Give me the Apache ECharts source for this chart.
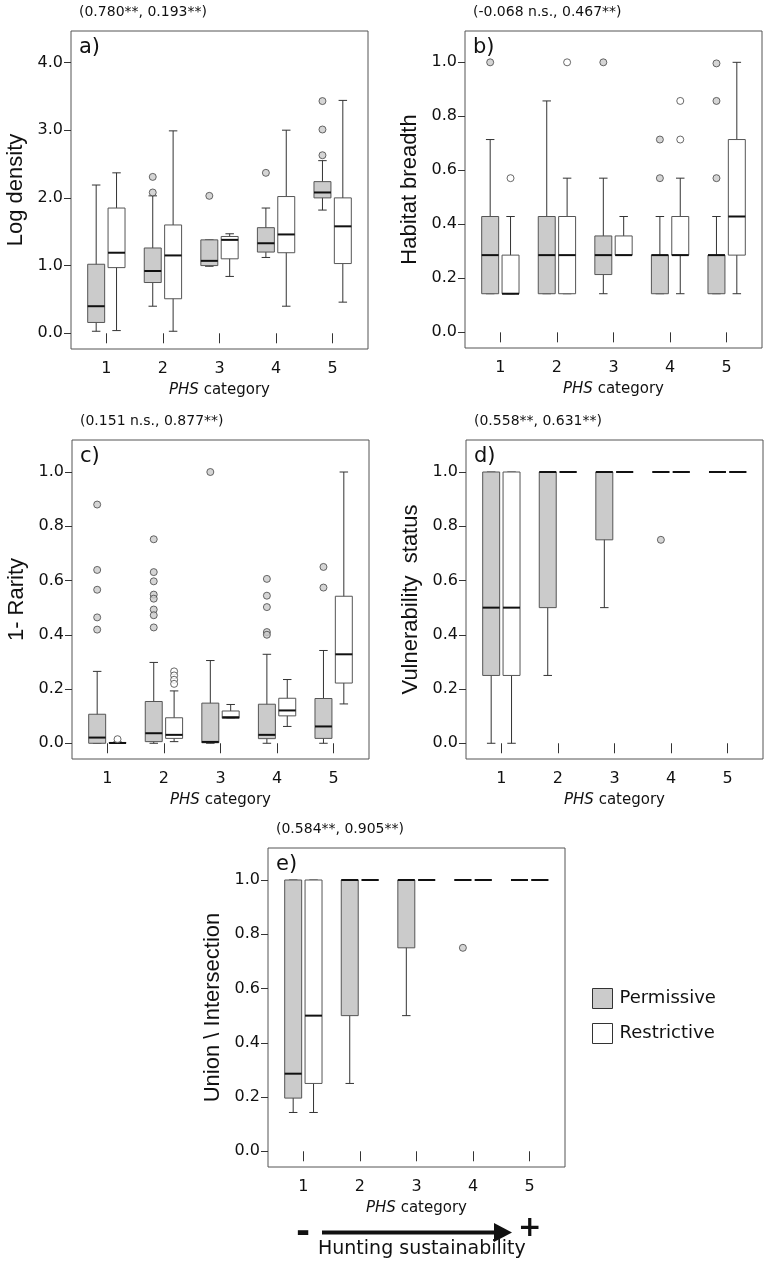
<!DOCTYPE html>
<html>
<head>
<meta charset="utf-8">
<script src="https://cdn.jsdelivr.net/npm/echarts@6/dist/echarts.min.js"></script>
<style>html,body{margin:0;padding:0;background:#fff;}#chart{width:768px;height:1267px;}</style>
</head>
<body>
<div id="chart"></div>
<script>
// ---------- data ----------
const phsCategories = [1, 2, 3, 4, 5];
const densityTicks = [0, 1, 2, 3, 4];
const unitTicks = [0, 0.2, 0.4, 0.6, 0.8, 1.0];

const panelLetters = ['a)', 'b)', 'c)', 'd)', 'e)'];
const correlationLabels = ['(0.780**, 0.193**)', '(-0.068 n.s., 0.467**)', '(0.151 n.s., 0.877**)', '(0.558**, 0.631**)', '(0.584**, 0.905**)'];
const yTitles = ['Log density', 'Habitat breadth', '1- Rarity', 'Vulnerability  status', 'Union \\ Intersection'];
const legendNames = ['Permissive', 'Restrictive'];

// [lower whisker, Q1, median, Q3, upper whisker] per PHS category
const logDensityPermissive = [[0.03,0.16,0.40,1.02,2.19],[0.40,0.75,0.92,1.26,2.03],[0.99,1.00,1.07,1.38,1.38],[1.12,1.20,1.33,1.56,1.85],[1.82,2.00,2.08,2.24,2.55]];
const logDensityRestrictive = [[0.04,0.97,1.19,1.85,2.37],[0.03,0.51,1.15,1.60,2.99],[0.84,1.10,1.38,1.43,1.47],[0.40,1.19,1.46,2.02,3.00],[0.46,1.03,1.58,2.00,3.44]];
const logDensityPermOutliers = [[2,2.31],[2,2.08],[3,2.03],[4,2.37],[5,3.43],[5,3.01],[5,2.63]];
const logDensityRestrOutliers = [];

const habitatPermissive = [[0.143,0.143,0.286,0.429,0.714],[0.143,0.143,0.286,0.429,0.857],[0.143,0.214,0.286,0.357,0.571],[0.143,0.143,0.286,0.286,0.429],[0.143,0.143,0.286,0.286,0.429]];
const habitatRestrictive = [[0.143,0.143,0.143,0.286,0.429],[0.143,0.143,0.286,0.429,0.571],[0.286,0.286,0.286,0.357,0.429],[0.143,0.286,0.286,0.429,0.571],[0.143,0.286,0.429,0.714,1.0]];
const habitatPermOutliers = [[1,1.0],[3,1.0],[4,0.714],[4,0.571],[5,0.996],[5,0.857],[5,0.571]];
const habitatRestrOutliers = [[1,0.571],[2,1.0],[4,0.857],[4,0.714]];

const rarityPermissive = [[0,0,0.021,0.107,0.265],[0,0.006,0.037,0.154,0.298],[0,0.002,0.005,0.148,0.305],[0,0.017,0.031,0.144,0.328],[0,0.018,0.062,0.165,0.342]];
const rarityRestrictive = [[0,0,0.001,0.003,0.005],[0.006,0.018,0.031,0.094,0.193],[0.092,0.092,0.096,0.119,0.143],[0.062,0.101,0.121,0.166,0.235],[0.145,0.222,0.328,0.542,1.0]];
const rarityPermOutliers = [[1,0.88],[1,0.639],[1,0.566],[1,0.464],[1,0.419],[2,0.752],[2,0.631],[2,0.597],[2,0.548],[2,0.533],[2,0.493],[2,0.472],[2,0.427],[3,1.0],[4,0.606],[4,0.544],[4,0.502],[4,0.41],[4,0.40],[5,0.65],[5,0.574]];
const rarityRestrOutliers = [[1,0.015],[2,0.265],[2,0.25],[2,0.234],[2,0.219]];

const vulnerabilityPermissive = [[0,0.25,0.5,1,1],[0.25,0.5,1,1,1],[0.5,0.75,1,1,1],[1,1,1,1,1],[1,1,1,1,1]];
const vulnerabilityRestrictive = [[0,0.25,0.5,1,1],[1,1,1,1,1],[1,1,1,1,1],[1,1,1,1,1],[1,1,1,1,1]];
const vulnerabilityPermOutliers = [[4,0.75]];
const vulnerabilityRestrOutliers = [];

const unionPermissive = [[0.143,0.196,0.286,1,1],[0.25,0.5,1,1,1],[0.5,0.75,1,1,1],[1,1,1,1,1],[1,1,1,1,1]];
const unionRestrictive = [[0.143,0.25,0.5,1,1],[1,1,1,1,1],[1,1,1,1,1],[1,1,1,1,1],[1,1,1,1,1]];
const unionPermOutliers = [[4,0.75]];
const unionRestrOutliers = [];

// ---------- layout / style ----------
const FONT = '"DejaVu Sans", sans-serif';
const FONT_Y = '"Liberation Sans", Arial, sans-serif';
const PERM_FILL = '#cbcbcb';
const BOX_STROKE = '#555';
const WHISKER = '#333';
const FRAME = '#555';
const OFFSET = 0.18;
const HALF_W = 0.15;

const grids = [
  {left: 71, top: 31, width: 297, height: 318},
  {left: 465, top: 31, width: 297, height: 317},
  {left: 72, top: 440, width: 297, height: 319},
  {left: 466, top: 440, width: 297, height: 319},
  {left: 268, top: 848, width: 297, height: 319}
];
const yRanges = [[-0.232, 4.465], [-0.058, 1.116], [-0.058, 1.118], [-0.058, 1.118], [-0.058, 1.118]];
const yTickSets = [densityTicks, unitTicks, unitTicks, unitTicks, unitTicks];

const panels = [
  [logDensityPermissive, logDensityRestrictive, logDensityPermOutliers, logDensityRestrOutliers],
  [habitatPermissive, habitatRestrictive, habitatPermOutliers, habitatRestrOutliers],
  [rarityPermissive, rarityRestrictive, rarityPermOutliers, rarityRestrOutliers],
  [vulnerabilityPermissive, vulnerabilityRestrictive, vulnerabilityPermOutliers, vulnerabilityRestrOutliers],
  [unionPermissive, unionRestrictive, unionPermOutliers, unionRestrOutliers]
];

function boxRenderer(offset, fill) {
  return function (params, api) {
    const x = api.value(0) + offset;
    const p = [1, 2, 3, 4, 5].map(d => api.coord([x, api.value(d)]));
    const hw = api.size([HALF_W, 0])[0];
    const cw = hw * 0.5;
    const cx = p[0][0];
    return {
      type: 'group',
      children: [
        {type: 'line', shape: {x1: cx, y1: p[0][1], x2: cx, y2: p[4][1]}, style: {stroke: WHISKER, lineWidth: 1}},
        {type: 'line', shape: {x1: cx - cw, y1: p[0][1], x2: cx + cw, y2: p[0][1]}, style: {stroke: WHISKER, lineWidth: 1}},
        {type: 'line', shape: {x1: cx - cw, y1: p[4][1], x2: cx + cw, y2: p[4][1]}, style: {stroke: WHISKER, lineWidth: 1}},
        {type: 'rect', shape: {x: cx - hw, y: p[3][1], width: hw * 2, height: p[1][1] - p[3][1]}, style: {fill: fill, stroke: BOX_STROKE, lineWidth: 1}},
        {type: 'line', shape: {x1: cx - hw, y1: p[2][1], x2: cx + hw, y2: p[2][1]}, style: {stroke: '#111', lineWidth: 2}}
      ]
    };
  };
}

const xAxes = [], yAxes = [], series = [], graphics = [];
panels.forEach((pan, i) => {
  xAxes.push({
    type: 'value', gridIndex: i, min: 0.375, max: 5.625,
    splitLine: {show: false},
    axisLine: {show: false},
    axisTick: {show: true, length: 10, lineStyle: {color: '#333'}, customValues: phsCategories},
    axisLabel: {show: true, margin: 12, customValues: phsCategories, fontFamily: FONT, fontSize: 16, color: '#111', formatter: v => String(v)},
    name: '{i|PHS} category', nameLocation: 'middle', nameGap: 34,
    nameTextStyle: {fontFamily: FONT, fontSize: 15, color: '#111', rich: {i: {fontFamily: FONT, fontSize: 15, fontStyle: 'italic', color: '#111'}}}
  });
  yAxes.push({
    type: 'value', gridIndex: i, min: yRanges[i][0], max: yRanges[i][1],
    splitLine: {show: false},
    axisLine: {show: false},
    axisTick: {show: true, length: 7, lineStyle: {color: '#333'}, customValues: yTickSets[i]},
    axisLabel: {show: true, margin: 8, customValues: yTickSets[i], fontFamily: FONT, fontSize: 16, color: '#111', formatter: v => v.toFixed(1)},
    name: yTitles[i], nameLocation: 'middle', nameGap: 44,
    nameTextStyle: {fontFamily: FONT_Y, fontSize: 22, color: '#111'}
  });
  const [permBoxes, restrBoxes, permOut, restrOut] = pan;
  series.push({
    type: 'custom', name: legendNames[0], xAxisIndex: i, yAxisIndex: i,
    itemStyle: {color: PERM_FILL},
    renderItem: boxRenderer(-OFFSET, PERM_FILL),
    encode: {x: 0, y: [1, 2, 3, 4, 5]},
    data: phsCategories.map((c, k) => [c].concat(permBoxes[k])),
    z: 2
  });
  series.push({
    type: 'custom', name: legendNames[1], xAxisIndex: i, yAxisIndex: i,
    itemStyle: {color: '#ffffff'},
    renderItem: boxRenderer(OFFSET, '#ffffff'),
    encode: {x: 0, y: [1, 2, 3, 4, 5]},
    data: phsCategories.map((c, k) => [c].concat(restrBoxes[k])),
    z: 2
  });
  series.push({
    type: 'scatter', name: 'Permissive outliers', xAxisIndex: i, yAxisIndex: i,
    symbol: 'circle', symbolSize: 7, z: 3,
    itemStyle: {color: PERM_FILL, borderColor: '#444', borderWidth: 1},
    data: permOut.map(d => [d[0] - OFFSET, d[1]])
  });
  series.push({
    type: 'scatter', name: 'Restrictive outliers', xAxisIndex: i, yAxisIndex: i,
    symbol: 'circle', symbolSize: 7, z: 3,
    itemStyle: {color: '#ffffff', borderColor: '#444', borderWidth: 1},
    data: restrOut.map(d => [d[0] + OFFSET, d[1]])
  });
  const g = grids[i];
  graphics.push({
    type: 'text', left: g.left + 8, top: g.top + 6, z: 10,
    style: {text: panelLetters[i], font: '21px ' + FONT, fill: '#111'}
  });
  graphics.push({
    type: 'text', left: g.left + 8, top: g.top - 26, z: 10,
    style: {text: correlationLabels[i], font: '14px ' + FONT, fill: '#111'}
  });
});

// arrow + "Hunting sustainability"
graphics.push({type: 'text', left: 296, top: 1216, style: {text: '-', font: 'bold 34px ' + FONT, fill: '#111'}});
graphics.push({type: 'line', shape: {x1: 322, y1: 1232.5, x2: 496, y2: 1232.5}, style: {stroke: '#111', lineWidth: 4}});
graphics.push({type: 'polygon', shape: {points: [[494, 1223], [512, 1232.5], [494, 1242]]}, style: {fill: '#111'}});
graphics.push({type: 'text', left: 518, top: 1215, style: {text: '+', font: 'bold 28px ' + FONT, fill: '#111'}});
graphics.push({type: 'text', left: 318, top: 1240, style: {text: 'Hunting sustainability', font: '19px ' + FONT, fill: '#111'}});

const option = {
  animation: false,
  backgroundColor: '#fff',
  grid: grids.map(g => Object.assign({show: true, borderColor: FRAME, borderWidth: 1, backgroundColor: 'transparent', containLabel: false}, g)),
  xAxis: xAxes,
  yAxis: yAxes,
  legend: {
    orient: 'vertical', left: 587, top: 983,
    itemWidth: 20, itemHeight: 20, itemGap: 14,
    textStyle: {fontFamily: FONT, fontSize: 18, color: '#111', padding: [0, 0, 0, 2]},
    selectedMode: false,
    data: [
      {name: legendNames[0], icon: 'rect', itemStyle: {color: PERM_FILL, borderColor: '#333', borderWidth: 1}},
      {name: legendNames[1], icon: 'rect', itemStyle: {color: '#ffffff', borderColor: '#333', borderWidth: 1}}
    ]
  },
  graphic: graphics,
  series: series
};

const chart = echarts.init(document.getElementById('chart'), null, {renderer: 'canvas'});
chart.setOption(option);
</script>
</body>
</html>
